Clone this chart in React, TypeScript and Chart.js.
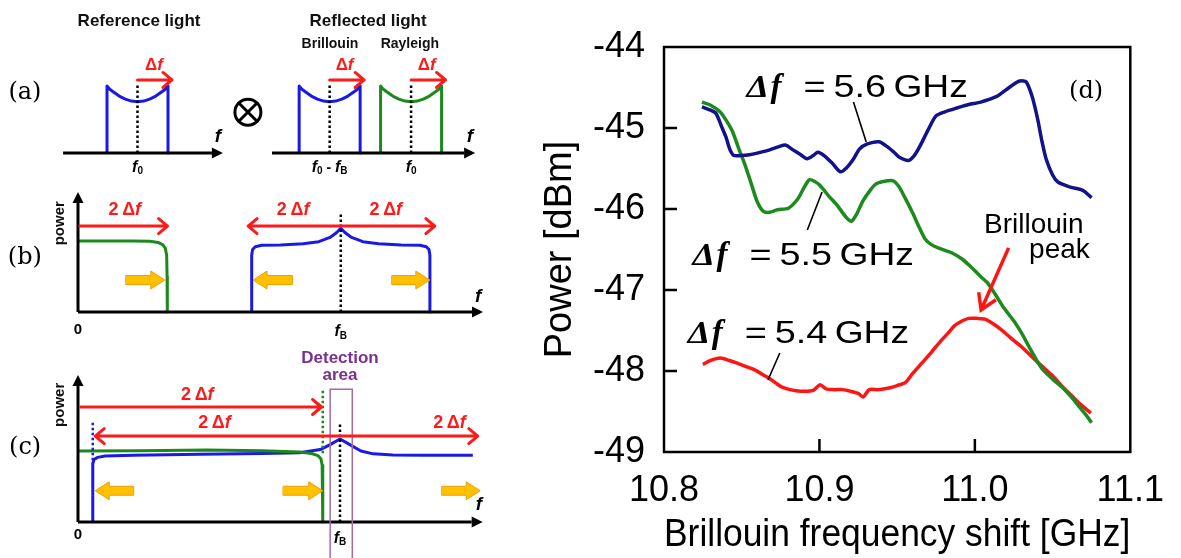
import React, { useEffect, useRef } from "react";
import { Chart, registerables } from "chart.js";

Chart.register(...registerables);

const PAGE_W = 1181;
const PAGE_H = 558;
const LEFT_W = 530;

const SANS = '"Liberation Sans", Arial, sans-serif';
const SERIF = '"Liberation Serif", "Times New Roman", serif';
const LABEL_SERIF = '"DejaVu Serif", serif';

// ================= Panel (d) data =================
const X_TICKS = [10.8, 10.9, 11.0, 11.1];
const Y_TICKS = [-44, -45, -46, -47, -48, -49];
const X_TITLE = "Brillouin frequency shift [GHz]";
const Y_TITLE = "Power [dBm]";
const SERIES_NAMES = ["5.6", "5.5", "5.4"];

const DF56_X = [10.8244, 10.83, 10.8335, 10.837, 10.84, 10.8425, 10.845, 10.8493, 10.855, 10.86, 10.868, 10.874, 10.8781, 10.883, 10.888, 10.892, 10.896, 10.899, 10.903, 10.908, 10.9134, 10.9175, 10.922, 10.9257, 10.9305, 10.9383, 10.9436, 10.948, 10.9514, 10.9573, 10.961, 10.9645, 10.97, 10.975, 10.9807, 10.9889, 10.996, 11.0038, 11.0141, 11.02, 11.025, 11.029, 11.033, 11.037, 11.0405, 11.043, 11.0458, 11.05, 11.0536, 11.0615, 11.0694, 11.0751];
const DF56_Y = [-44.74, -44.78, -44.82, -44.98, -45.12, -45.27, -45.34, -45.34, -45.33, -45.31, -45.27, -45.23, -45.21, -45.27, -45.33, -45.38, -45.34, -45.3, -45.34, -45.43, -45.54, -45.49, -45.38, -45.26, -45.2, -45.17, -45.23, -45.3, -45.36, -45.4, -45.34, -45.23, -45.02, -44.85, -44.8, -44.75, -44.71, -44.68, -44.61, -44.53, -44.46, -44.42, -44.43, -44.62, -44.9, -45.15, -45.38, -45.58, -45.67, -45.73, -45.77, -45.86];

const DF55_X = [10.8244, 10.83, 10.836, 10.8398, 10.844, 10.848, 10.852, 10.856, 10.86, 10.864, 10.868, 10.873, 10.88, 10.8859, 10.89, 10.8935, 10.897, 10.9004, 10.906, 10.9112, 10.9175, 10.9207, 10.924, 10.928, 10.933, 10.9364, 10.941, 10.947, 10.951, 10.955, 10.96, 10.964, 10.968, 10.972, 10.9763, 10.985, 10.992, 10.9977, 11.004, 11.008, 11.013, 11.0186, 11.025, 11.03, 11.036, 11.0431, 11.05, 11.0562, 11.062, 11.0667, 11.071, 11.0751];
const DF55_Y = [-44.68, -44.72, -44.8, -44.9, -45.04, -45.25, -45.45, -45.68, -45.91, -46.03, -46.04, -46.01, -45.99, -45.88, -45.74, -45.64, -45.66, -45.71, -45.84, -45.95, -46.11, -46.15, -46.06, -45.9, -45.76, -45.69, -45.66, -45.65, -45.72, -45.86, -46.05, -46.22, -46.37, -46.44, -46.48, -46.54, -46.62, -46.72, -46.84, -46.91, -47.05, -47.22, -47.38, -47.53, -47.74, -47.97, -48.1, -48.2, -48.32, -48.43, -48.53, -48.64];

const DF54_X = [10.825, 10.83, 10.8362, 10.842, 10.8466, 10.852, 10.8587, 10.863, 10.8676, 10.872, 10.876, 10.881, 10.8878, 10.896, 10.9004, 10.9043, 10.9093, 10.9148, 10.92, 10.9252, 10.9282, 10.932, 10.938, 10.9447, 10.95, 10.9554, 10.96, 10.966, 10.9724, 10.978, 10.9829, 10.987, 10.992, 10.996, 11.001, 11.0065, 11.012, 11.0169, 11.023, 11.03, 11.037, 11.0431, 11.05, 11.0562, 11.062, 11.0667, 11.0746];
const DF54_Y = [-47.92, -47.87, -47.84, -47.87, -47.9, -47.94, -47.99, -48.04, -48.09, -48.15, -48.2, -48.23, -48.25, -48.24, -48.17, -48.22, -48.23, -48.23, -48.25, -48.28, -48.32, -48.23, -48.23, -48.21, -48.18, -48.14, -48.03, -47.9, -47.76, -47.63, -47.53, -47.44, -47.38, -47.35, -47.35, -47.36, -47.42, -47.49, -47.59, -47.7, -47.83, -47.94, -48.06, -48.19, -48.3, -48.39, -48.52];

// ================= Schematic data (a), (b), (c) =================
// (a): frequency in units of half-bandwidth, power normalised
const REF_X = [-1, -1, -0.92, -0.8, -0.6, -0.4, -0.2, 0, 0.2, 0.4, 0.6, 0.8, 0.92, 1, 1];
const BRIL_X = [5.3, 5.3, 5.38, 5.5, 5.7, 5.9, 6.1, 6.3, 6.5, 6.7, 6.9, 7.1, 7.22, 7.3, 7.3];
const RAY_X = [7.97, 7.97, 8.05, 8.17, 8.37, 8.57, 8.77, 8.97, 9.17, 9.37, 9.57, 9.77, 9.89, 9.97, 9.97];
const SPEC_A_Y = [0, 1, 0.955, 0.915, 0.85, 0.805, 0.775, 0.765, 0.775, 0.805, 0.85, 0.915, 0.955, 1, 0];

// (b): frequency in units of delta-f
const GREEN_B_X = [0, 1.2, 1.6, 1.78, 1.88, 1.94, 1.97, 1.98, 1.985];
const GREEN_B_Y = [1.0, 1.0, 0.995, 0.98, 0.95, 0.9, 0.8, 0.5, 0];
const BLUE_B_X = [3.86, 3.86, 3.88, 3.94, 4.08, 4.5, 5.0, 5.35, 5.6, 5.75, 5.84, 5.93, 6.08, 6.33, 6.68, 7.18, 7.6, 7.74, 7.8, 7.82, 7.82];
const BLUE_B_Y = [0, 0.8, 0.88, 0.92, 0.94, 0.945, 0.96, 0.99, 1.05, 1.12, 1.18, 1.12, 1.05, 0.99, 0.96, 0.945, 0.94, 0.92, 0.88, 0.8, 0];

// (c): frequency in units of (larger) delta-f
const GREEN_C_X = [0, 0.5, 1.05, 1.5, 1.8, 1.9, 1.95, 1.975, 1.985, 1.99, 1.99];
const GREEN_C_Y = [1.0, 1.005, 1.015, 1.005, 0.985, 0.965, 0.935, 0.89, 0.8, 0.6, 0];
const BLUE_C_X = [0.12, 0.12, 0.13, 0.16, 0.22, 0.45, 0.99, 1.5, 1.8, 1.97, 2.05, 2.13, 2.21, 2.3, 2.4, 2.56, 2.8, 3.21];
const BLUE_C_Y = [0, 0.82, 0.88, 0.91, 0.93, 0.94, 0.955, 0.965, 0.975, 1.02, 1.09, 1.17, 1.09, 1.0, 0.96, 0.945, 0.94, 0.94];

// ================= Colours =================
const C_BLUE = "#1a1ae6";
const C_GREEN = "#1b8a1b";
const C_RED = "#ff1a1a";
const C_ORANGE = "#ffc000";
const C_ORANGE_EDGE = "#eaa200";
const C_PURPLE = "#7b2f8e";
const C_RECT = "#a66ba3";
const D_BLUE = "#12128a";
const D_GREEN = "#1c8a1c";
const D_RED = "#ff1414";

// ================= helpers =================
type Seg = { t: string; f: string; dy?: number };
const seg = (t: string, f: string, dy = 0): Seg => ({ t, f, dy });
const FIT = (s: number) => `italic bold ${s}px ${SANS}`;
const FB = (s: number) => `bold ${s}px ${SANS}`;
const SERIF24 = `24px ${LABEL_SERIF}`;

const SEG_F0 = [seg("f", FIT(16)), seg("0", FB(10), 4)];
const SEG_FB = [seg("f", FIT(16)), seg("B", FB(10), 4)];
const SEG_F0_FB = [seg("f", FIT(16)), seg("0", FB(10), 4), seg(" - ", FB(14)), seg("f", FIT(16)), seg("B", FB(10), 4)];
const SEG_DF = [seg("\u0394", FB(17)), seg("f", FIT(17))];
const SEG_2DF = [seg("2\u2009", FB(18)), seg("\u0394", FB(18)), seg("f", FIT(18))];
const SEG_FAX = [seg("f", FIT(19))];

function drawSegs(ctx: CanvasRenderingContext2D, segs: Seg[], cx: number, cy: number, color: string, align = "center") {
  ctx.textBaseline = "middle";
  ctx.textAlign = "left";
  let total = 0;
  const widths = segs.map((s) => {
    ctx.font = s.f;
    const w = ctx.measureText(s.t).width;
    total += w;
    return w;
  });
  let x = align === "center" ? cx - total / 2 : align === "left" ? cx : cx - total;
  ctx.fillStyle = color;
  segs.forEach((s, i) => {
    ctx.font = s.f;
    ctx.fillText(s.t, x, cy + (s.dy || 0));
    x += widths[i];
  });
}

type Note = any;

const NOTES_A: Note[] = [
  { k: "text", x: -3.69, y: 0.9, segs: [seg("(a)", SERIF24)], c: "#000" },
  { k: "text", x: 0.05, y: 1.97, segs: [seg("Reference light", FB(17))], c: "#111" },
  { k: "text", x: 7.56, y: 1.97, segs: [seg("Reflected light", FB(17))], c: "#111" },
  { k: "text", x: 6.31, y: 1.63, segs: [seg("Brillouin", FB(14))], c: "#111" },
  { k: "text", x: 8.93, y: 1.63, segs: [seg("Rayleigh", FB(14))], c: "#111" },
  { k: "axis", x1: -2.44, y1: 0, x2: 2.8, y2: 0 },
  { k: "axis", x1: 4.41, y1: 0, x2: 11.07, y2: 0 },
  { k: "dot", x: 0, y1: 0, y2: 1.02, c: "#000" },
  { k: "dot", x: 6.3, y1: 0, y2: 1.02, c: "#000" },
  { k: "dot", x: 8.97, y1: 0, y2: 1.03, c: "#000" },
  { k: "red", x1: 0, x2: 1.13, y: 1.09 },
  { k: "red", x1: 6.3, x2: 7.43, y: 1.09 },
  { k: "red", x1: 8.97, x2: 10.1, y: 1.09 },
  { k: "text", x: 0.54, y: 1.31, segs: SEG_DF, c: C_RED },
  { k: "text", x: 6.79, y: 1.31, segs: SEG_DF, c: C_RED },
  { k: "text", x: 9.48, y: 1.31, segs: SEG_DF, c: C_RED },
  { k: "text", x: 2.64, y: 0.24, segs: SEG_FAX, c: "#000" },
  { k: "text", x: 10.9, y: 0.24, segs: SEG_FAX, c: "#000" },
  { k: "text", x: 0, y: -0.22, segs: SEG_F0, c: "#000" },
  { k: "text", x: 6.3, y: -0.22, segs: SEG_F0_FB, c: "#000" },
  { k: "text", x: 8.97, y: -0.22, segs: SEG_F0, c: "#000" },
  { k: "otimes", x: 3.62, y: 0.61, r: 13 },
];

const NOTES_B: Note[] = [
  { k: "text", x: -1.18, y: 0.76, segs: [seg("(b)", SERIF24)], c: "#000" },
  { k: "axis", x1: 0, y1: 0, x2: 0, y2: 1.69 },
  { k: "axis", x1: 0, y1: 0, x2: 9.0, y2: 0 },
  { k: "text", x: -0.4, y: 1.25, segs: [seg("power", FB(15))], c: "#111", rot: -90 },
  { k: "text", x: 8.89, y: 0.21, segs: SEG_FAX, c: "#000" },
  { k: "text", x: 0, y: -0.25, segs: [seg("0", FB(15))], c: "#000" },
  { k: "text", x: 5.84, y: -0.28, segs: SEG_FB, c: "#000" },
  { k: "dot", x: 5.84, y1: 0, y2: 1.39, c: "#000" },
  { k: "red", x1: 0.04, x2: 1.99, y: 1.21 },
  { k: "red", x1: 5.84, x2: 3.78, y: 1.21 },
  { k: "red", x1: 5.84, x2: 7.93, y: 1.21 },
  { k: "text", x: 1.04, y: 1.44, segs: SEG_2DF, c: C_RED },
  { k: "text", x: 4.78, y: 1.44, segs: SEG_2DF, c: C_RED },
  { k: "text", x: 6.84, y: 1.44, segs: SEG_2DF, c: C_RED },
  { k: "orange", x1: 1.07, x2: 1.93, y: 0.45 },
  { k: "orange", x1: 4.76, x2: 3.89, y: 0.45 },
  { k: "orange", x1: 6.98, x2: 7.82, y: 0.45 },
];

const NOTES_C: Note[] = [
  { k: "text", x: -0.43, y: 1.04, segs: [seg("(c)", SERIF24)], c: "#000" },
  { k: "axis", x1: 0, y1: 0, x2: 0, y2: 2.07 },
  { k: "axis", x1: 0, y1: 0, x2: 3.29, y2: 0 },
  { k: "text", x: -0.146, y: 1.65, segs: [seg("power", FB(15))], c: "#111", rot: -90 },
  { k: "text", x: 3.26, y: 0.24, segs: SEG_FAX, c: "#000" },
  { k: "text", x: 0, y: -0.18, segs: [seg("0", FB(15))], c: "#000" },
  { k: "text", x: 2.13, y: -0.23, segs: SEG_FB, c: "#000" },
  { k: "text", x: 2.13, y: 2.31, segs: [seg("Detection", FB(17))], c: C_PURPLE },
  { k: "text", x: 2.13, y: 2.07, segs: [seg("area", FB(17))], c: C_PURPLE },
  { k: "rect", x1: 2.05, x2: 2.23, y1: 1.87, y2: -0.6, c: C_RECT },
  { k: "dot", x: 1.99, y1: 0.97, y2: 1.86, c: C_GREEN },
  { k: "dot", x: 0.12, y1: 0.87, y2: 1.41, c: C_BLUE },
  { k: "dot", x: 2.13, y1: 0, y2: 1.39, c: "#000" },
  { k: "red", x1: 0.02, x2: 1.98, y: 1.62 },
  { k: "red", x1: 0.14, x2: 3.25, y: 1.21, both: true },
  { k: "text", x: 0.97, y: 1.79, segs: SEG_2DF, c: C_RED },
  { k: "text", x: 1.11, y: 1.39, segs: SEG_2DF, c: C_RED },
  { k: "text", x: 3.02, y: 1.39, segs: SEG_2DF, c: C_RED },
  { k: "orange", x1: 0.45, x2: 0.14, y: 0.44 },
  { k: "orange", x1: 1.67, x2: 1.99, y: 0.44 },
  { k: "orange", x1: 2.96, x2: 3.27, y: 0.44 },
];

const ROW_A = {
  map: { x0: 137.5, xu: 30.5, y0: 153, yu: 67 },
  series: [
    { x: REF_X, y: SPEC_A_Y, c: C_BLUE },
    { x: BRIL_X, y: SPEC_A_Y, c: C_BLUE },
    { x: RAY_X, y: SPEC_A_Y, c: C_GREEN },
  ],
  notes: NOTES_A,
};
const ROW_B = {
  map: { x0: 78, xu: 45, y0: 312, yu: 71 },
  series: [
    { x: GREEN_B_X, y: GREEN_B_Y, c: C_GREEN },
    { x: BLUE_B_X, y: BLUE_B_Y, c: C_BLUE },
  ],
  notes: NOTES_B,
};
const ROW_C = {
  map: { x0: 78, xu: 123, y0: 522, yu: 71 },
  series: [
    { x: GREEN_C_X, y: GREEN_C_Y, c: C_GREEN },
    { x: BLUE_C_X, y: BLUE_C_Y, c: C_BLUE },
  ],
  notes: NOTES_C,
};

function schematicPlugin(notes: Note[]) {
  return {
    id: "schematicNotes",
    afterDatasetsDraw(chart: any) {
      const ctx: CanvasRenderingContext2D = chart.ctx;
      const sx = chart.scales.x;
      const sy = chart.scales.y;
      const X = (v: number) => sx.getPixelForValue(v);
      const Y = (v: number) => sy.getPixelForValue(v);
      ctx.save();
      for (const n of notes) {
        ctx.setLineDash([]);
        if (n.k === "axis") {
          const x1 = X(n.x1), y1 = Y(n.y1), x2 = X(n.x2), y2 = Y(n.y2);
          const a = Math.atan2(y2 - y1, x2 - x1);
          const hl = 11, hw = 5.5;
          const bx = x2 - hl * Math.cos(a), by = y2 - hl * Math.sin(a);
          ctx.strokeStyle = "#000";
          ctx.lineWidth = 3;
          ctx.lineCap = "butt";
          ctx.beginPath();
          ctx.moveTo(x1, y1);
          ctx.lineTo(bx, by);
          ctx.stroke();
          ctx.fillStyle = "#000";
          ctx.beginPath();
          ctx.moveTo(x2, y2);
          ctx.lineTo(bx + hw * Math.sin(a), by - hw * Math.cos(a));
          ctx.lineTo(bx - hw * Math.sin(a), by + hw * Math.cos(a));
          ctx.closePath();
          ctx.fill();
        } else if (n.k === "red") {
          const y = Y(n.y), xa = X(n.x1), xb = X(n.x2);
          const d = Math.sign(xb - xa);
          ctx.strokeStyle = C_RED;
          ctx.lineWidth = 3;
          ctx.lineCap = "round";
          ctx.lineJoin = "round";
          ctx.beginPath();
          ctx.moveTo(xa, y);
          ctx.lineTo(xb, y);
          ctx.moveTo(xb - d * 9, y - 7.5);
          ctx.lineTo(xb, y);
          ctx.lineTo(xb - d * 9, y + 7.5);
          if (n.both) {
            ctx.moveTo(xa + d * 9, y - 7.5);
            ctx.lineTo(xa, y);
            ctx.lineTo(xa + d * 9, y + 7.5);
          }
          ctx.stroke();
        } else if (n.k === "dot") {
          ctx.strokeStyle = n.c;
          ctx.lineWidth = 2.5;
          ctx.lineCap = "butt";
          ctx.setLineDash([2.5, 2.5]);
          ctx.beginPath();
          ctx.moveTo(X(n.x), Y(n.y1));
          ctx.lineTo(X(n.x), Y(n.y2));
          ctx.stroke();
          ctx.setLineDash([]);
        } else if (n.k === "orange") {
          const y = Y(n.y), xa = X(n.x1), xb = X(n.x2);
          const d = Math.sign(xb - xa);
          const hl = 14, hh = 9, bh = 4.5;
          ctx.fillStyle = C_ORANGE;
          ctx.strokeStyle = C_ORANGE_EDGE;
          ctx.lineWidth = 1;
          ctx.beginPath();
          ctx.moveTo(xa, y - bh);
          ctx.lineTo(xb - d * hl, y - bh);
          ctx.lineTo(xb - d * hl, y - hh);
          ctx.lineTo(xb, y);
          ctx.lineTo(xb - d * hl, y + hh);
          ctx.lineTo(xb - d * hl, y + bh);
          ctx.lineTo(xa, y + bh);
          ctx.closePath();
          ctx.fill();
          ctx.stroke();
        } else if (n.k === "rect") {
          ctx.strokeStyle = n.c;
          ctx.lineWidth = 1.5;
          const x1 = X(n.x1), x2 = X(n.x2), y1 = Y(n.y1), y2 = Y(n.y2);
          ctx.strokeRect(x1, y1, x2 - x1, y2 - y1);
        } else if (n.k === "otimes") {
          const cx = X(n.x), cy = Y(n.y), r = n.r;
          ctx.strokeStyle = "#000";
          ctx.lineWidth = 3;
          ctx.beginPath();
          ctx.arc(cx, cy, r, 0, Math.PI * 2);
          ctx.stroke();
          const q = r * 0.7;
          ctx.beginPath();
          ctx.moveTo(cx - q, cy - q);
          ctx.lineTo(cx + q, cy + q);
          ctx.moveTo(cx + q, cy - q);
          ctx.lineTo(cx - q, cy + q);
          ctx.stroke();
        } else if (n.k === "text") {
          if (n.rot) {
            ctx.save();
            ctx.translate(X(n.x), Y(n.y));
            ctx.rotate((n.rot * Math.PI) / 180);
            drawSegs(ctx, n.segs, 0, 0, n.c);
            ctx.restore();
          } else {
            drawSegs(ctx, n.segs, X(n.x), Y(n.y), n.c);
          }
        }
      }
      ctx.restore();
    },
  };
}

function schematicConfig(row: any): any {
  const { x0, xu, y0, yu } = row.map;
  return {
    type: "line",
    data: {
      datasets: row.series.map((s: any) => ({
        data: s.x.map((x: number, i: number) => ({ x, y: s.y[i] })),
        borderColor: s.c,
        borderWidth: 3,
        pointRadius: 0,
        tension: 0,
        fill: false,
        borderJoinStyle: "round",
      })),
    },
    options: {
      responsive: false,
      animation: false,
      events: [],
      layout: { padding: 0 },
      plugins: { legend: { display: false }, tooltip: { enabled: false } },
      scales: {
        x: { type: "linear", display: false, min: (0 - x0) / xu, max: (LEFT_W - x0) / xu },
        y: { type: "linear", display: false, min: (y0 - PAGE_H) / yu, max: y0 / yu },
      },
    },
    plugins: [schematicPlugin(row.notes)],
  };
}

// ---------- panel (d) annotations ----------
const D_LABELS = [
  { x: 10.853, y: -44.617 },
  { x: 10.8183, y: -46.691 },
  { x: 10.8152, y: -47.654 },
];
const D_LEADERS = [
  [10.9219, -44.679, 10.9301, -45.173],
  [10.9017, -45.79, 10.8922, -46.259],
  [10.8745, -47.778, 10.8669, -48.111],
];
const PEAK_ARROW = { x1: 11.0217, y1: -46.48, x2: 11.004, y2: -47.247 };

function piece(ctx: CanvasRenderingContext2D, t: string, font: string, x: number, y: number, sx: number) {
  ctx.save();
  ctx.font = font;
  ctx.textAlign = "left";
  ctx.textBaseline = "alphabetic";
  ctx.translate(x, y);
  ctx.scale(sx, 1);
  ctx.fillText(t, 0, 0);
  ctx.restore();
}

const dPlugin = {
  id: "panelD",
  afterDraw(chart: any) {
    const ctx: CanvasRenderingContext2D = chart.ctx;
    const a = chart.chartArea;
    const sx = chart.scales.x;
    const sy = chart.scales.y;
    const X = (v: number) => sx.getPixelForValue(v);
    const Y = (v: number) => sy.getPixelForValue(v);
    ctx.save();
    ctx.strokeStyle = "#000";
    ctx.lineWidth = 2.5;
    ctx.strokeRect(a.left, a.top, a.right - a.left, a.bottom - a.top);
    ctx.beginPath();
    Y_TICKS.slice(1, -1).forEach((v) => {
      ctx.moveTo(a.left, Y(v));
      ctx.lineTo(a.left + 13, Y(v));
    });
    X_TICKS.slice(1, -1).forEach((v) => {
      ctx.moveTo(X(v), a.bottom);
      ctx.lineTo(X(v), a.bottom - 13);
    });
    ctx.stroke();

    // leaders
    ctx.lineWidth = 1.6;
    ctx.beginPath();
    D_LEADERS.forEach((l) => {
      ctx.moveTo(X(l[0]), Y(l[1]));
      ctx.lineTo(X(l[2]), Y(l[3]));
    });
    ctx.stroke();

    // labels
    ctx.fillStyle = "#000";
    D_LABELS.forEach((p, i) => {
      const x0 = X(p.x), yb = Y(p.y);
      piece(ctx, "\u0394", `italic bold 31px ${SERIF}`, x0, yb, 1.15);
      piece(ctx, "f", `italic bold 33px ${SERIF}`, x0 + 24, yb, 1.0);
      piece(ctx, "=", `31px ${SANS}`, x0 + 57, yb, 1.22);
      piece(ctx, SERIES_NAMES[i], `31px ${SANS}`, x0 + 87, yb, 1.22);
      piece(ctx, "GHz", `31px ${SANS}`, x0 + 147, yb, 1.2);
    });

    // (d)
    ctx.font = `24px ${LABEL_SERIF}`;
    ctx.textAlign = "center";
    ctx.textBaseline = "middle";
    ctx.fillText("(d)", X(11.0716), Y(-44.556));

    // Brillouin peak
    piece(ctx, "Brillouin", `28px ${SANS}`, X(11.0059), Y(-46.296), 1.0);
    piece(ctx, "peak", `28px ${SANS}`, X(11.0349), Y(-46.605), 1.0);

    const x1 = X(PEAK_ARROW.x1), y1 = Y(PEAK_ARROW.y1), x2 = X(PEAK_ARROW.x2), y2 = Y(PEAK_ARROW.y2);
    const ang = Math.atan2(y1 - y2, x1 - x2);
    ctx.strokeStyle = D_RED;
    ctx.lineWidth = 3.5;
    ctx.lineCap = "butt";
    ctx.lineJoin = "miter";
    ctx.beginPath();
    ctx.moveTo(x1, y1);
    ctx.lineTo(x2, y2);
    ctx.moveTo(x2 + 18 * Math.cos(ang - 0.55), y2 + 18 * Math.sin(ang - 0.55));
    ctx.lineTo(x2, y2);
    ctx.lineTo(x2 + 18 * Math.cos(ang + 0.55), y2 + 18 * Math.sin(ang + 0.55));
    ctx.stroke();
    ctx.restore();
  },
};

function dConfig(): any {
  const mk = (xs: number[], ys: number[], c: string) => ({
    data: xs.map((x, i) => ({ x, y: ys[i] })),
    borderColor: c,
    borderWidth: 3.5,
    pointRadius: 0,
    tension: 0.25,
    fill: false,
  });
  return {
    type: "line",
    data: {
      datasets: [mk(DF56_X, DF56_Y, D_BLUE), mk(DF55_X, DF55_Y, D_GREEN), mk(DF54_X, DF54_Y, D_RED)],
    },
    options: {
      responsive: false,
      animation: false,
      events: [],
      layout: { padding: { left: 0, top: 47, right: 42, bottom: 0 } },
      plugins: { legend: { display: false }, tooltip: { enabled: false } },
      scales: {
        x: {
          type: "linear",
          min: 10.8,
          max: 11.1,
          afterBuildTicks: (s: any) => {
            s.ticks = X_TICKS.map((v) => ({ value: v }));
          },
          afterFit: (s: any) => {
            s.height = 106;
          },
          grid: { display: false, drawTicks: false },
          border: { display: false },
          ticks: {
            font: { family: SANS, size: 36 },
            color: "#000",
            padding: 17,
            maxRotation: 0,
            autoSkip: false,
            callback: (v: any) => Number(v).toFixed(1),
          },
          title: {
            display: true,
            text: X_TITLE,
            color: "#000",
            font: { family: SANS, size: 38 },
            padding: { top: 0, bottom: 0 },
          },
        },
        y: {
          type: "linear",
          min: -49,
          max: -44,
          afterBuildTicks: (s: any) => {
            s.ticks = Y_TICKS.map((v) => ({ value: v }));
          },
          afterFit: (s: any) => {
            s.width = 134;
          },
          grid: { display: false, drawTicks: false },
          border: { display: false },
          ticks: {
            font: { family: SANS, size: 36 },
            color: "#000",
            padding: 19,
            autoSkip: false,
            callback: (v: any) => String(v),
          },
          title: {
            display: true,
            text: Y_TITLE,
            color: "#000",
            font: { family: SANS, size: 38 },
            padding: { top: 8, bottom: 0 },
          },
        },
      },
    },
    plugins: [dPlugin],
  };
}

function ChartCanvas(props: { make: () => any; left: number; top: number; width: number; height: number }) {
  const ref = useRef<HTMLCanvasElement>(null);
  useEffect(() => {
    const chart = new Chart(ref.current as HTMLCanvasElement, props.make());
    return () => chart.destroy();
  }, []);
  return (
    <canvas
      ref={ref}
      width={props.width}
      height={props.height}
      style={{ position: "absolute", left: props.left, top: props.top, width: props.width, height: props.height }}
    />
  );
}

export default function App() {
  return (
    <div
      style={{
        position: "absolute",
        left: 0,
        top: 0,
        width: PAGE_W,
        height: PAGE_H,
        background: "#fff",
        overflow: "hidden",
      }}
    >
      <ChartCanvas make={() => schematicConfig(ROW_A)} left={0} top={0} width={LEFT_W} height={PAGE_H} />
      <ChartCanvas make={() => schematicConfig(ROW_B)} left={0} top={0} width={LEFT_W} height={PAGE_H} />
      <ChartCanvas make={() => schematicConfig(ROW_C)} left={0} top={0} width={LEFT_W} height={PAGE_H} />
      <ChartCanvas make={dConfig} left={LEFT_W} top={0} width={PAGE_W - LEFT_W} height={PAGE_H} />
    </div>
  );
}
